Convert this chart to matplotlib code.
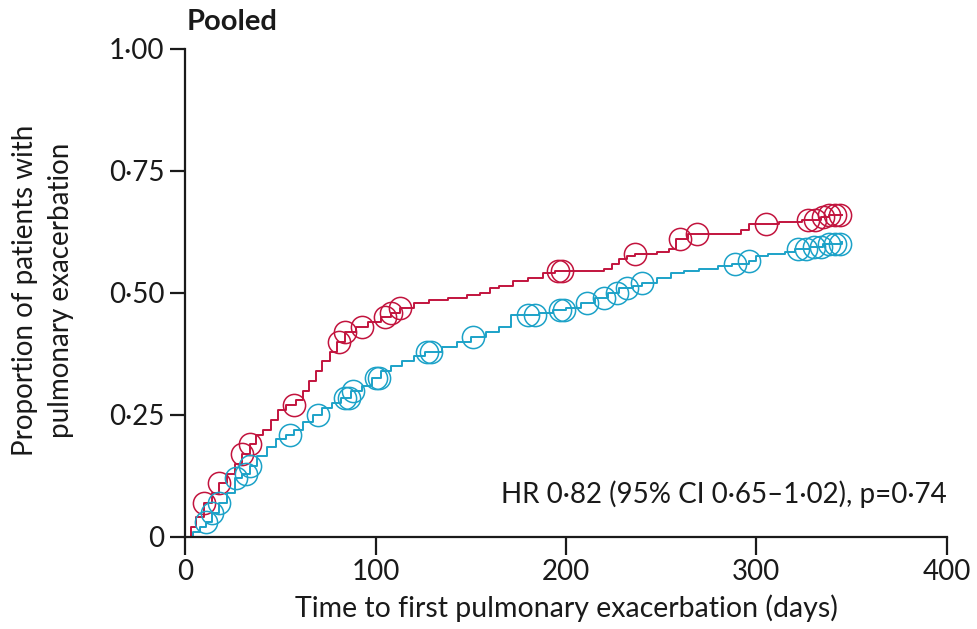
import numpy as np
import matplotlib
matplotlib.use('Agg')
import matplotlib.pyplot as plt

plt.rcParams['font.family'] = ['Lato', 'DejaVu Sans']

# step curve (time in days, cumulative proportion)
red_t = [0, 3, 6, 10, 14, 18, 22, 26, 30, 34, 37, 41, 45, 49, 53, 58, 62, 65, 69, 72,
         76, 80, 84, 90, 96, 103, 108, 113, 120, 128, 138, 148, 155, 160, 165, 172, 180,
         188, 194, 220, 224, 228, 232, 236, 248, 254, 258, 264, 292, 296, 312, 324,
         334, 338, 345]
red_y = [0, 0.02, 0.04, 0.07, 0.09, 0.11, 0.13, 0.15, 0.17, 0.19, 0.21, 0.22, 0.24, 0.26,
         0.27, 0.28, 0.30, 0.32, 0.34, 0.36, 0.38, 0.40, 0.42, 0.43, 0.44, 0.45, 0.46, 0.47,
         0.48, 0.485, 0.49, 0.495, 0.50, 0.51, 0.515, 0.525, 0.53, 0.54, 0.546, 0.55, 0.56,
         0.57, 0.575, 0.58, 0.585, 0.59, 0.61, 0.62, 0.63, 0.642, 0.645, 0.65, 0.655,
         0.66, 0.66]
red_cens = [10, 18, 30, 34, 57, 81, 84, 93, 105, 108, 113, 196, 198, 236, 260, 269, 305,
            327, 331, 335, 338, 341, 344]

teal_t = [0, 4, 8, 11, 14, 18, 22, 26, 30, 34, 38, 43, 48, 53, 57, 62, 67, 72, 77, 82, 87,
          93, 98, 103, 108, 114, 120, 126, 135, 143, 150, 158, 165, 171, 186, 193, 200, 208,
          215, 222, 228, 235, 240, 248, 255, 262, 270, 280, 287, 296, 300, 306, 315, 320,
          328, 335, 345]
teal_y = [0, 0.01, 0.02, 0.03, 0.05, 0.07, 0.09, 0.12, 0.13, 0.145, 0.165, 0.185, 0.20, 0.21,
          0.22, 0.235, 0.25, 0.265, 0.275, 0.285, 0.30, 0.31, 0.325, 0.34, 0.35, 0.36, 0.37,
          0.38, 0.39, 0.40, 0.41, 0.42, 0.43, 0.454, 0.458, 0.465, 0.47, 0.48, 0.49, 0.50,
          0.51, 0.515, 0.52, 0.53, 0.54, 0.545, 0.55, 0.555, 0.56, 0.565, 0.575, 0.58,
          0.585, 0.59, 0.595, 0.60, 0.605]
teal_cens = [11, 14, 18, 27, 32, 34, 55, 70, 84, 86, 88, 100, 102, 127, 129, 151, 180, 184,
             197, 199, 211, 220, 227, 232, 240, 289, 296, 322, 326, 330, 334, 338, 341, 344]

yticks = [0, 0.25, 0.5, 0.75, 1.0]
ytick_labels = ['0', '0·25', '0·50', '0·75', '1·00']
xticks = [0, 100, 200, 300, 400]

red = '#c2143e'
teal = '#1ca2c8'
ink = '#1a1a1a'


def step_at(t, ts, ys):
    i = np.searchsorted(ts, t, side='right') - 1
    return np.array(ys)[i]


fig = plt.figure(figsize=(9.78, 6.29), dpi=100)
ax = fig.add_axes([0.1892, 0.1463, 0.779, 0.7758])

for ts, ys, cens, c in [(red_t, red_y, red_cens, red), (teal_t, teal_y, teal_cens, teal)]:
    ax.step(ts, ys, where='post', color=c, lw=1.4, clip_on=False)
    ax.plot(cens, step_at(np.array(cens), ts, ys), 'o', mfc='none', mec=c, ms=16,
            mew=1.1, clip_on=False)

ax.set_xlim(0, 400)
ax.set_ylim(0, 1)
ax.set_xticks(xticks)
ax.set_yticks(yticks)
ax.set_yticklabels(ytick_labels)
for s in ['top', 'right']:
    ax.spines[s].set_visible(False)
for s in ['left', 'bottom']:
    ax.spines[s].set_linewidth(1.6)
    ax.spines[s].set_color(ink)
ax.tick_params(width=1.6, labelsize=20, colors=ink)
ax.tick_params(axis='x', length=13, pad=3)
ax.tick_params(axis='y', length=11, pad=4)

ax.set_xlabel('Time to first pulmonary exacerbation (days)', fontsize=20.5, color=ink)
ax.xaxis.set_label_coords(0.5, -0.118)
ax.set_ylabel('Proportion of patients with\npulmonary exacerbation', fontsize=20,
              color=ink, linespacing=1.45)
ax.yaxis.set_label_coords(-0.146, 0.505)
fig.text(0.1912, 1 - 30 / 629, 'Pooled', fontsize=21, fontweight='bold', ha='left',
         va='baseline', color=ink)
ax.text(1.0, 0.069, 'HR 0·82 (95% CI 0·65–1·02), p=0·74', fontsize=20, ha='right',
        va='baseline', color=ink, transform=ax.transAxes)

plt.savefig('out.png', dpi=100)
plt.close()
